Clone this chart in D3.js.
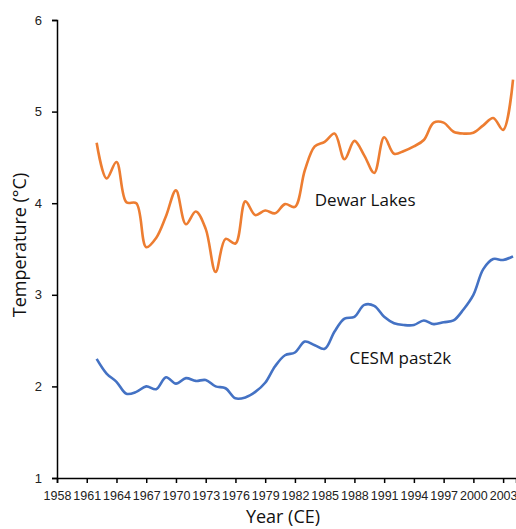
<!DOCTYPE html>
<html>
<head>
<meta charset="utf-8">
<script src="https://cdn.jsdelivr.net/npm/d3@7"></script>
<style>
  body { margin: 0; background: #fff; }
  svg { display: block; }
  .tick text { font-family: "Liberation Sans", "DejaVu Sans", sans-serif; fill: #222; }
</style>
</head>
<body>
<div id="chart"></div>
<script>
const years = d3.range(1962, 2005);

const dewarLakes = [
  4.66, 4.27, 4.45, 4.01, 4.00, 3.52, 3.62, 3.86, 4.14, 3.77,
  3.91, 3.72, 3.25, 3.61, 3.56, 4.02, 3.87, 3.92, 3.89, 3.99,
  3.96, 4.36, 4.62, 4.67, 4.76, 4.48, 4.68, 4.52, 4.33, 4.72,
  4.54, 4.57, 4.62, 4.69, 4.88, 4.88, 4.78, 4.76, 4.77, 4.85,
  4.93, 4.80, 5.35
];

const cesmPast2k = [
  2.30, 2.14, 2.05, 1.92, 1.94, 2.00, 1.97, 2.10, 2.03, 2.09,
  2.06, 2.07, 2.00, 1.98, 1.87, 1.88, 1.94, 2.04, 2.22, 2.34,
  2.37, 2.49, 2.45, 2.41, 2.60, 2.74, 2.76, 2.89, 2.88, 2.76,
  2.69, 2.67, 2.67, 2.72, 2.68, 2.70, 2.72, 2.84, 3.00, 3.28,
  3.39, 3.38, 3.42
];

const xTicks = d3.range(1958, 2004, 3);
const yTicks = [1, 2, 3, 4, 5, 6];

const series = [
  { name: "Dewar Lakes", values: dewarLakes, color: "#ED7D31", labelYear: 1984.0, labelValue: 4.03 },
  { name: "CESM past2k", values: cesmPast2k, color: "#4472C4", labelYear: 1987.5, labelValue: 2.31 }
];

const width = 516, height = 529;
const margin = { top: 20, right: 0, bottom: 51, left: 57 };

const svg = d3.select("#chart").append("svg")
  .attr("width", width)
  .attr("height", height);

const x = d3.scaleLinear()
  .domain([1958, 2004.3])
  .range([margin.left, width - margin.right]);

const y = d3.scaleLinear()
  .domain([1, 6])
  .range([height - margin.bottom, margin.top]);

// axes
const xAxis = svg.append("g")
  .attr("transform", `translate(0,${height - margin.bottom})`)
  .call(d3.axisBottom(x).tickValues(xTicks).tickFormat(d3.format("d")).tickSizeOuter(0).tickSize(5).tickPadding(6));
xAxis.selectAll("text").style("font-size", "12.5px").attr("dy", "0.9em");

const yAxis = svg.append("g")
  .attr("transform", `translate(${margin.left},0)`)
  .call(d3.axisLeft(y).tickValues(yTicks).tickFormat(d3.format("d")).tickSizeOuter(0).tickSize(5).tickPadding(10));
yAxis.selectAll("text").style("font-size", "13px");

svg.selectAll(".domain, .tick line")
  .attr("stroke", "#000")
  .attr("stroke-width", 1.5);

// lines
const line = d3.line()
  .curve(d3.curveCatmullRom.alpha(0.5))
  .x((d, i) => x(years[i]))
  .y(d => y(d));

svg.selectAll(".series")
  .data(series)
  .enter().append("path")
  .attr("class", "series")
  .attr("d", d => line(d.values))
  .attr("fill", "none")
  .attr("stroke", d => d.color)
  .attr("stroke-width", 2.6)
  .attr("stroke-linejoin", "round");

// series labels
svg.selectAll(".seriesLabel")
  .data(series)
  .enter().append("text")
  .attr("class", "seriesLabel")
  .attr("x", d => x(d.labelYear))
  .attr("y", d => y(d.labelValue))
  .attr("dy", "0.35em")
  .style("font-family", "'Open Sans', 'Liberation Sans', sans-serif")
  .style("font-size", "17px")
  .style("fill", "#111")
  .text(d => d.name);

// axis titles
svg.append("text")
  .attr("x", 283)
  .attr("y", 517)
  .attr("text-anchor", "middle")
  .attr("dy", "0.35em")
  .style("font-family", "'Open Sans', 'Liberation Sans', sans-serif")
  .style("font-size", "18px")
  .style("fill", "#111")
  .text("Year (CE)");

svg.append("text")
  .attr("transform", "translate(20,245) rotate(-90)")
  .attr("text-anchor", "middle")
  .attr("dy", "0.35em")
  .style("font-family", "'Open Sans', 'Liberation Sans', sans-serif")
  .style("font-size", "18px")
  .style("fill", "#111")
  .text("Temperature (°C)");
</script>
</body>
</html>
